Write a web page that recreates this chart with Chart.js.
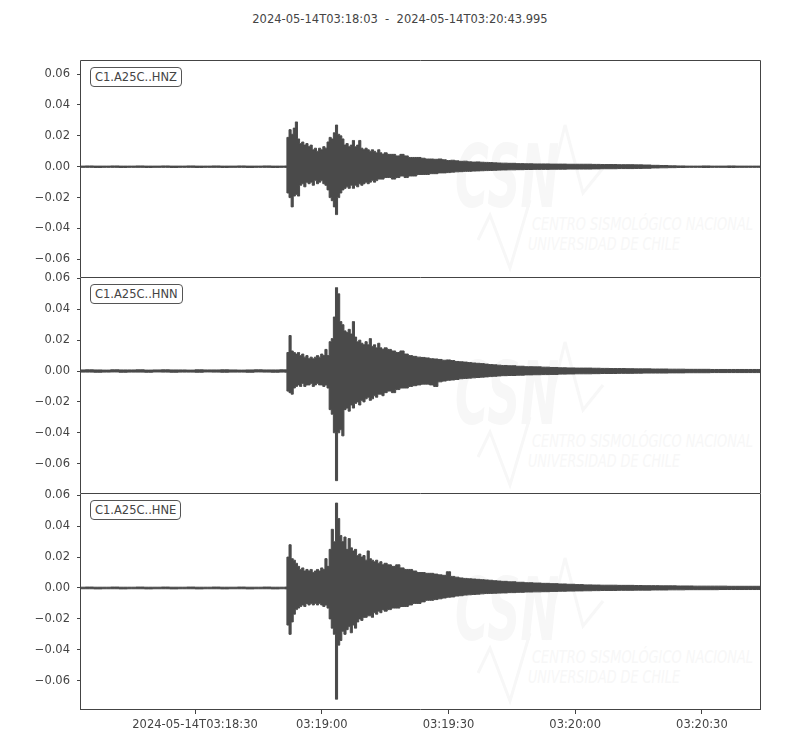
<!DOCTYPE html>
<html>
<head>
    <title>C1.A25C waveforms</title>
    <script src="https://cdn.jsdelivr.net/npm/chart.js"></script>
    <style>
        body { margin: 0; background: #fff; font-family: "DejaVu Sans", sans-serif; }
        #wrap { position: relative; width: 800px; height: 750px; }
        #wrap canvas { position: absolute; left: 0; }
        .title { position: absolute; left: 0; top: 12px; width: 800px; text-align: center; font-size: 11.5px; color: #444; }
        .tag { position: absolute; left: 90px; font-size: 11.5px; line-height: 14px; padding: 2px 4px 2px 4px; color: #444;
               border: 1px solid #555; border-radius: 4px; background: #fff; z-index: 5; }
        #mark { position: absolute; left: 0; top: 0; }
    </style>
</head>
<body>
<div id="wrap">
    <svg id="mark" width="800" height="750"></svg>
    <div class="title">2024-05-14T03:18:03&nbsp;&nbsp;-&nbsp;&nbsp;2024-05-14T03:20:43.995</div>
    <canvas id="cZ" width="761" height="227" style="top:50px"></canvas>
    <canvas id="cN" width="761" height="226" style="top:267px"></canvas>
    <canvas id="cE" width="761" height="267" style="top:483px"></canvas>
</div>

<script>
    // seconds after 2024-05-14T03:18:03
    const END = 160.995;
    const times = [
        0, 2, 4, 6, 8, 10, 12, 14, 16, 18, 20, 22, 24, 26, 28, 30, 32, 34, 36, 38, 40, 42, 44, 46, 48,
        48.5, 49, 49.5, 50, 50.5, 51, 51.5, 52, 52.5, 53, 53.5, 54, 54.5, 55, 55.5, 56, 56.5, 57, 57.5, 58,
        58.5, 59, 59.5, 60, 60.5, 61, 61.5, 62, 62.5, 63, 63.5, 64, 64.5, 65, 65.5, 66, 66.5, 67, 67.5, 68,
        68.5, 69, 69.5, 70, 70.5, 71, 71.5, 72,
        73, 74, 75, 76, 77, 78, 79, 80, 81, 82, 83, 84, 85, 86, 87, 88, 89, 90, 91, 92, 93, 94, 95, 96, 97, 98, 99, 100,
        102, 104, 106, 108, 110, 112, 114, 116, 118, 120, 122, 124, 126, 128, 130, 132, 134, 136, 138, 140,
        142, 144, 146, 148, 150, 152, 154, 156, 158, 160
    ];

    // max / min amplitude (m/s^2) in each time bin
    const hiZ = [
        0.0004, 0.0005, 0.0004, 0.0004, 0.0005, 0.0004, 0.0004, 0.0005, 0.0004, 0.0004, 0.0005, 0.0004, 0.0004, 0.0005, 0.0004, 0.0004, 0.0005, 0.0004, 0.0004, 0.0005, 0.0004, 0.0004, 0.0005, 0.0004, 0.0004,
        0.0005, 0.019, 0.024, 0.021, 0.025, 0.029, 0.018, 0.015, 0.016, 0.014,
        0.015, 0.013, 0.014, 0.011, 0.012, 0.010, 0.012, 0.011, 0.013, 0.012,
        0.016, 0.019, 0.018, 0.022, 0.027, 0.021, 0.020, 0.018, 0.014, 0.015,
        0.013, 0.014, 0.017, 0.013, 0.014, 0.017, 0.012, 0.011, 0.012, 0.011,
        0.010, 0.011, 0.010, 0.009, 0.011, 0.009, 0.008, 0.009,
        0.008, 0.008, 0.007, 0.008, 0.007, 0.006, 0.006, 0.006, 0.0055, 0.005,
        0.005, 0.0048, 0.005, 0.0045, 0.004, 0.0042, 0.0038, 0.0035, 0.0036, 0.0032,
        0.003, 0.0031, 0.0029, 0.0028, 0.0027, 0.0025, 0.0024, 0.0023,
        0.0022, 0.002, 0.0019, 0.0018, 0.0018, 0.0017, 0.0017, 0.0016, 0.0016, 0.0016,
        0.0015, 0.0014, 0.0014, 0.0013, 0.0013, 0.0012, 0.0011, 0.0009, 0.0008, 0.0006,
        0.0005, 0.0004, 0.0004, 0.0005, 0.0004, 0.0004, 0.0005, 0.0004, 0.0004, 0.0004
    ];
    const loZ = [
        -0.0004, -0.0004, -0.0005, -0.0004, -0.0004, -0.0005, -0.0004, -0.0004, -0.0005, -0.0004, -0.0004, -0.0005, -0.0004, -0.0004, -0.0005, -0.0004, -0.0004, -0.0005, -0.0004, -0.0004, -0.0005, -0.0004, -0.0004, -0.0005, -0.0004,
        -0.0005, -0.017, -0.020, -0.026, -0.019, -0.018, -0.019, -0.012, -0.011, -0.013,
        -0.010, -0.011, -0.010, -0.012, -0.009, -0.011, -0.010, -0.009, -0.011, -0.012,
        -0.015, -0.020, -0.022, -0.026, -0.031, -0.020, -0.017, -0.015, -0.014, -0.013,
        -0.014, -0.012, -0.014, -0.012, -0.013, -0.011, -0.012, -0.011, -0.010, -0.011,
        -0.010, -0.009, -0.010, -0.009, -0.008, -0.008, -0.008, -0.007,
        -0.007, -0.008, -0.007, -0.006, -0.007, -0.006, -0.006, -0.005, -0.005, -0.005,
        -0.0045, -0.0045, -0.004, -0.004, -0.0038, -0.0035, -0.0033, -0.0032, -0.003, -0.003,
        -0.0028, -0.0027, -0.0026, -0.0025, -0.0024, -0.0023, -0.0022, -0.0021,
        -0.002, -0.0019, -0.0018, -0.0017, -0.0017, -0.0016, -0.0016, -0.0015, -0.0015, -0.0015,
        -0.0014, -0.0013, -0.0013, -0.0012, -0.0012, -0.0011, -0.001, -0.0008, -0.0007, -0.0006,
        -0.0005, -0.0004, -0.0004, -0.0005, -0.0004, -0.0004, -0.0005, -0.0004, -0.0004, -0.0004
    ];
    const hiN = [
        0.0007, 0.0008, 0.0007, 0.0006, 0.0008, 0.0007, 0.0007, 0.0008, 0.0006, 0.0007, 0.0008, 0.0007, 0.0007, 0.0006, 0.0008, 0.0007, 0.0007, 0.0008, 0.0007, 0.0006, 0.0007, 0.0008, 0.0007, 0.0007, 0.0008,
        0.0008, 0.012, 0.023, 0.013, 0.012, 0.011, 0.012, 0.010, 0.011, 0.009,
        0.010, 0.008, 0.009, 0.008, 0.009, 0.010, 0.009, 0.011, 0.010, 0.014,
        0.010, 0.019, 0.021, 0.035, 0.054, 0.050, 0.032, 0.030, 0.026, 0.025,
        0.027, 0.024, 0.032, 0.022, 0.019, 0.020, 0.018, 0.017, 0.019, 0.017,
        0.021, 0.016, 0.017, 0.015, 0.018, 0.015, 0.014, 0.015,
        0.014, 0.013, 0.012, 0.013, 0.011, 0.010, 0.0095, 0.009, 0.0088, 0.0085,
        0.008, 0.0078, 0.0075, 0.007, 0.0072, 0.0068, 0.0062, 0.006, 0.0058, 0.0055,
        0.0052, 0.005, 0.0048, 0.0045, 0.0042, 0.004, 0.0038, 0.0036,
        0.0034, 0.0031, 0.0028, 0.0027, 0.0025, 0.0023, 0.0021, 0.002, 0.0019, 0.0019,
        0.0018, 0.0017, 0.0016, 0.0016, 0.0015, 0.0014, 0.0014, 0.0013, 0.0013, 0.0012,
        0.0012, 0.0011, 0.0011, 0.0011, 0.001, 0.001, 0.001, 0.001, 0.001, 0.001
    ];
    const loN = [
        -0.0007, -0.0007, -0.0008, -0.0007, -0.0006, -0.0008, -0.0007, -0.0007, -0.0008, -0.0006, -0.0007, -0.0008, -0.0007, -0.0007, -0.0008, -0.0006, -0.0007, -0.0008, -0.0007, -0.0007, -0.0008, -0.0006, -0.0007, -0.0008, -0.0007,
        -0.0008, -0.013, -0.014, -0.015, -0.011, -0.010, -0.009, -0.010, -0.008, -0.010,
        -0.009, -0.009, -0.008, -0.010, -0.009, -0.008, -0.009, -0.009, -0.010, -0.009,
        -0.011, -0.025, -0.028, -0.040, -0.071, -0.040, -0.038, -0.042, -0.025, -0.024,
        -0.026, -0.022, -0.024, -0.021, -0.020, -0.022, -0.019, -0.020, -0.018, -0.017,
        -0.019, -0.018, -0.016, -0.017, -0.015, -0.015, -0.016, -0.014,
        -0.013, -0.014, -0.012, -0.011, -0.011, -0.010, -0.0095, -0.009, -0.0085, -0.0085,
        -0.009, -0.010, -0.007, -0.0065, -0.006, -0.0058, -0.0055, -0.005, -0.0048, -0.0046,
        -0.0044, -0.0042, -0.004, -0.0038, -0.0036, -0.0034, -0.0032, -0.003,
        -0.0029, -0.0027, -0.0025, -0.0024, -0.0023, -0.0022, -0.002, -0.0019, -0.0018, -0.0018,
        -0.0017, -0.0016, -0.0016, -0.0015, -0.0015, -0.0014, -0.0013, -0.0013, -0.0013, -0.0012,
        -0.0012, -0.0011, -0.0011, -0.0011, -0.001, -0.001, -0.001, -0.001, -0.001, -0.001
    ];
    const hiE = [
        0.0005, 0.0006, 0.0005, 0.0005, 0.0006, 0.0005, 0.0005, 0.0006, 0.0005, 0.0005, 0.0006, 0.0005, 0.0005, 0.0006, 0.0005, 0.0005, 0.0006, 0.0005, 0.0005, 0.0006, 0.0005, 0.0005, 0.0006, 0.0005, 0.0005,
        0.0006, 0.020, 0.028, 0.019, 0.018, 0.016, 0.014, 0.012, 0.013, 0.011,
        0.012, 0.011, 0.012, 0.010, 0.011, 0.012, 0.011, 0.013, 0.012, 0.019,
        0.014, 0.025, 0.038, 0.030, 0.055, 0.045, 0.034, 0.030, 0.033, 0.025,
        0.032, 0.026, 0.024, 0.025, 0.021, 0.022, 0.020, 0.021, 0.018, 0.024,
        0.019, 0.018, 0.017, 0.018, 0.016, 0.017, 0.015, 0.016,
        0.015, 0.014, 0.015, 0.013, 0.012, 0.012, 0.011, 0.010, 0.010, 0.0095,
        0.0095, 0.009, 0.0085, 0.0082, 0.0105, 0.0075, 0.007, 0.0065, 0.0062, 0.006,
        0.0058, 0.0056, 0.0054, 0.0052, 0.005, 0.0047, 0.0045, 0.0043,
        0.004, 0.0037, 0.0034, 0.0032, 0.003, 0.0028, 0.0026, 0.0024, 0.0022, 0.002,
        0.0019, 0.0018, 0.0018, 0.0017, 0.0017, 0.0016, 0.0015, 0.0015, 0.0014, 0.0014,
        0.0013, 0.0013, 0.0012, 0.0012, 0.0012, 0.0012, 0.0011, 0.0011, 0.0011, 0.0011
    ];
    const loE = [
        -0.0005, -0.0005, -0.0006, -0.0005, -0.0005, -0.0006, -0.0005, -0.0005, -0.0006, -0.0005, -0.0005, -0.0006, -0.0005, -0.0005, -0.0006, -0.0005, -0.0005, -0.0006, -0.0005, -0.0005, -0.0006, -0.0005, -0.0005, -0.0006, -0.0005,
        -0.0006, -0.024, -0.030, -0.022, -0.017, -0.014, -0.013, -0.012, -0.011, -0.012,
        -0.010, -0.011, -0.010, -0.011, -0.010, -0.011, -0.010, -0.011, -0.012, -0.011,
        -0.013, -0.020, -0.026, -0.030, -0.072, -0.037, -0.034, -0.028, -0.030, -0.027,
        -0.025, -0.029, -0.024, -0.026, -0.022, -0.020, -0.021, -0.019, -0.019, -0.018,
        -0.018, -0.019, -0.016, -0.017, -0.015, -0.016, -0.014, -0.015,
        -0.014, -0.013, -0.013, -0.012, -0.012, -0.011, -0.010, -0.010, -0.009, -0.008,
        -0.008, -0.0075, -0.007, -0.0065, -0.006, -0.0058, -0.0052, -0.005, -0.0046, -0.0044,
        -0.0042, -0.004, -0.0038, -0.0036, -0.0035, -0.0034, -0.0033, -0.0032,
        -0.003, -0.0028, -0.0026, -0.0025, -0.0024, -0.0022, -0.0021, -0.002, -0.0019, -0.0018,
        -0.0017, -0.0016, -0.0016, -0.0015, -0.0015, -0.0014, -0.0014, -0.0013, -0.0013, -0.0012,
        -0.0012, -0.0011, -0.0011, -0.0011, -0.0011, -0.001, -0.001, -0.001, -0.001, -0.001
    ];

    const channels = ['C1.A25C..HNZ', 'C1.A25C..HNN', 'C1.A25C..HNE'];
    const yMins = [-0.0714, -0.079, -0.079];
    const yMaxs = [0.0691, 0.0609, 0.0615];
    const yTicks = [-0.06, -0.04, -0.02, 0, 0.02, 0.04, 0.06];
    const xTickValues = [27, 57, 87, 117, 147];
    const xTickLabels = ['2024-05-14T03:18:30', '03:19:00', '03:19:30', '03:20:00', '03:20:30'];

    const TRACE = '#4a4a4a';
    const INK = '#444';
    const PAD = 10;   // room above each panel for the top tick label
    Chart.defaults.font.family = '"DejaVu Sans", sans-serif';
    Chart.defaults.font.size = 11.5;
    Chart.defaults.color = INK;

    // one envelope edge, held to the end of the record
    function edge(vals) {
        const pts = times.map((t, i) => ({ x: t, y: vals[i] }));
        pts.push({ x: END, y: vals[vals.length - 1] });
        return pts;
    }

    function fmtY(v) {
        const s = Math.abs(v).toFixed(2);
        return v < -1e-9 ? '\u2212' + s : s;
    }

    // box round each panel
    const frame = {
        id: 'frame',
        afterDraw(chart, args, opts) {
            const { ctx, chartArea: a } = chart;
            ctx.save();
            ctx.strokeStyle = INK;
            ctx.lineWidth = 1;
            ctx.beginPath();
            ctx.moveTo(a.left - 0.5, a.bottom);
            ctx.lineTo(a.left - 0.5, a.top + 0.5);
            ctx.lineTo(a.right - 0.5, a.top + 0.5);
            ctx.lineTo(a.right - 0.5, a.bottom);
            if (opts.bottom) {
                ctx.moveTo(a.left - 1, a.bottom - 0.5);
                ctx.lineTo(a.right, a.bottom - 0.5);
            }
            ctx.stroke();
            ctx.restore();
        }
    };

    function makePanel(id, k, hi, lo, showX) {
        const line = {
            borderColor: TRACE,
            borderWidth: 1,
            pointRadius: 0,
            stepped: 'middle'
        };
        return new Chart(document.getElementById(id), {
            type: 'line',
            data: {
                datasets: [
                    Object.assign({ data: edge(hi), backgroundColor: TRACE, fill: '+1' }, line),
                    Object.assign({ data: edge(lo), fill: false }, line)
                ]
            },
            options: {
                responsive: false,
                animation: false,
                layout: { padding: { top: PAD, left: 0, right: 0, bottom: 0 } },
                plugins: {
                    legend: { display: false },
                    tooltip: { enabled: false },
                    frame: { bottom: showX }
                },
                scales: {
                    x: {
                        type: 'linear',
                        min: 0,
                        max: END,
                        display: showX,
                        grid: { drawOnChartArea: false, tickLength: 4, color: INK },
                        border: { display: false },
                        ticks: {
                            padding: 4,
                            autoSkip: false,
                            maxRotation: 0,
                            callback: (v, i) => xTickLabels[i]
                        },
                        afterBuildTicks: s => { s.ticks = xTickValues.map(v => ({ value: v })); },
                        afterFit: s => { if (showX) s.height = 40; s.paddingLeft = 0; s.paddingRight = 0; }
                    },
                    y: {
                        min: yMins[k],
                        max: yMaxs[k],
                        grid: { drawOnChartArea: false, tickLength: 4, color: INK },
                        border: { display: false },
                        ticks: { padding: 7, callback: v => fmtY(v) },
                        afterBuildTicks: s => { s.ticks = yTicks.map(v => ({ value: v })); },
                        afterFit: s => { s.width = 81; s.paddingTop = 0; s.paddingBottom = 0; }
                    }
                }
            },
            plugins: [frame]
        });
    }

    makePanel('cZ', 0, hiZ, loZ, false);
    makePanel('cN', 1, hiN, loN, false);
    makePanel('cE', 2, hiE, loE, true);

    // channel tags and the faint CSN watermark in each panel
    const panelTops = [60, 277, 493];
    const wrap = document.getElementById('wrap');
    const svg = document.getElementById('mark');
    const NS = 'http://www.w3.org/2000/svg';
    const FAINT = '#f7f7f7';

    function svgEl(tag, attrs, text) {
        const el = document.createElementNS(NS, tag);
        for (const key in attrs) el.setAttribute(key, attrs[key]);
        if (text) el.textContent = text;
        return el;
    }

    panelTops.forEach((top, k) => {
        const tag = document.createElement('div');
        tag.className = 'tag';
        tag.style.top = (top + 7) + 'px';
        tag.textContent = channels[k];
        wrap.appendChild(tag);

        const g = svgEl('g', { transform: 'translate(0,' + (top - 60) + ')' });
        g.appendChild(svgEl('text', { x: 455, y: 207, 'font-size': 88, 'font-weight': 'bold', 'font-style': 'italic',
            'font-family': 'DejaVu Sans', fill: FAINT, textLength: 104, lengthAdjust: 'spacingAndGlyphs' }, 'CSN'));
        g.appendChild(svgEl('polyline', { points: '545,207 565,125 583,193 603,168', fill: 'none', stroke: FAINT, 'stroke-width': 3 }));
        g.appendChild(svgEl('polyline', { points: '478,240 490,215 510,268 530,200', fill: 'none', stroke: FAINT, 'stroke-width': 3 }));
        g.appendChild(svgEl('text', { x: 532, y: 230, 'font-size': 17, 'font-style': 'italic', 'font-family': 'DejaVu Sans',
            fill: FAINT, textLength: 221, lengthAdjust: 'spacingAndGlyphs' }, 'CENTRO SISMOLÓGICO NACIONAL'));
        g.appendChild(svgEl('text', { x: 528, y: 250, 'font-size': 17, 'font-style': 'italic', 'font-family': 'DejaVu Sans',
            fill: FAINT, textLength: 152, lengthAdjust: 'spacingAndGlyphs' }, 'UNIVERSIDAD DE CHILE'));
        svg.appendChild(g);
    });
</script>
</body>
</html>
